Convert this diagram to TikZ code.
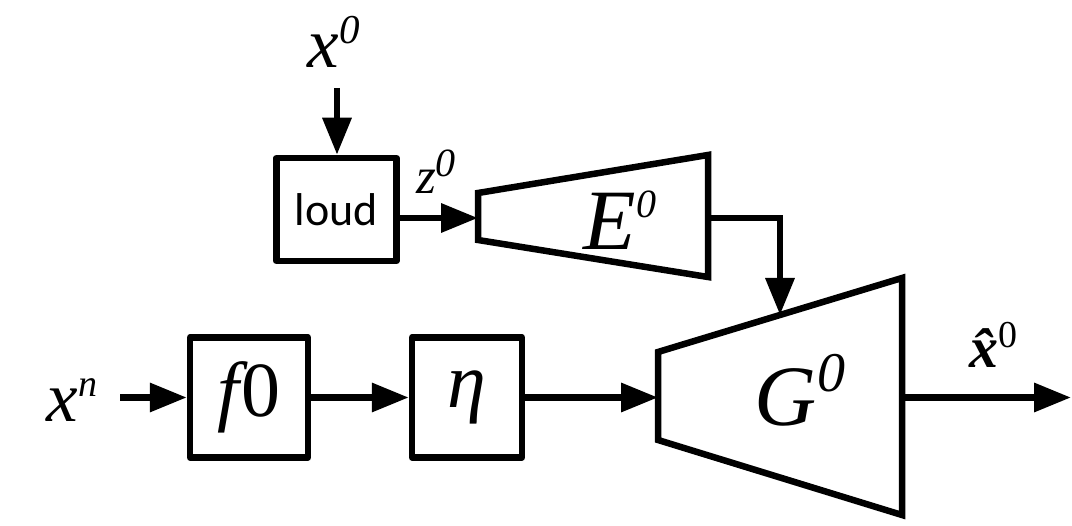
\documentclass[tikz,border=0pt]{standalone}
\usepackage{fontspec}
\setmainfont{Liberation Serif}
\newfontfamily\calfont{Carlito}
\usetikzlibrary{arrows.meta}

\begin{document}
\begin{tikzpicture}[x=1pt,y=-1pt,
  wire/.style={line width=6.5pt, -{Triangle[length=37pt,width=28pt]}},
  blockbox/.style={draw, line width=6.5pt, line join=round, inner sep=0pt},
  stage/.style={draw, line width=6.5pt, line join=miter},
  lbl/.style={inner sep=0pt}]
\useasboundingbox (0,0) rectangle (1072,526);

% input labels
\node[lbl] (x0) at (334,42) {\fontsize{71}{71}\selectfont\itshape x\raisebox{24pt}{\fontsize{41}{41}\selectfont 0}};
\node[lbl] (xn) at (72,400) {\fontsize{71}{71}\selectfont\itshape x\raisebox{25pt}{\fontsize{38}{38}\selectfont n}};
\node[lbl] (z0) at (436,172) {\fontsize{51}{51}\selectfont\itshape z\raisebox{17pt}{\fontsize{40}{40}\selectfont 0}};

% plain blocks
\node[blockbox, minimum width=120pt, minimum height=103pt] (loud) at (336.5,209.5) {\calfont\fontsize{46}{46}\selectfont loud};
\node[blockbox, minimum width=118pt, minimum height=120pt] (f0) at (249,397.5) {\fontsize{78}{78}\selectfont{\itshape f}\kern3pt 0};
\node[blockbox, minimum width=110pt, minimum height=120pt] (eta) at (467,397.5) {\fontsize{78}{78}\selectfont\itshape η};

% encoder E^0
\coordinate (Etl) at (478,193);
\coordinate (Etr) at (708,155);
\coordinate (Ebr) at (708,277);
\coordinate (Ebl) at (478,240);
\draw[stage] (Etl) -- (Etr) -- (Ebr) -- (Ebl) -- cycle;
\coordinate (Ein) at (478,218);
\coordinate (Eout) at (708,218);
\node[lbl] (E) at (620,220) {\fontsize{86}{86}\selectfont\itshape E\raisebox{32pt}{\fontsize{40}{40}\selectfont 0}};

% generator G^0
\coordinate (Gtl) at (658,352);
\coordinate (Gtr) at (902,278);
\coordinate (Gbr) at (902,515);
\coordinate (Gbl) at (658,440);
\draw[stage] (Gtl) -- (Gtr) -- (Gbr) -- (Gbl) -- cycle;
\coordinate (Gin) at (658,397.5);
\coordinate (Gtop) at (780,315);
\coordinate (Gout) at (902,397.5);
\node[lbl] (G) at (800,390) {\fontsize{86}{86}\selectfont\itshape G\raisebox{34pt}{\fontsize{56}{56}\selectfont 0}};

% output
\coordinate (xout) at (1071,397.5);
\node[lbl] (xhat) at (993,345) {\fontsize{58}{58}\selectfont{\bfseries\itshape\^{x}}\raisebox{20pt}{\fontsize{38}{38}\selectfont 0}};

% free input ends
\coordinate (x0in) at (337,88);
\coordinate (xnin) at (120,397.5);

% connectors
\draw[wire] (x0in) -- (x0in |- loud.north);
\draw[wire] (loud.east |- Ein) -- (Ein);
\draw[wire, line join=miter] (Eout) -| (Gtop);
\draw[wire] (xnin) -- (f0.west);
\draw[wire] (f0.east) -- (eta.west);
\draw[wire] (eta.east) -- (Gin);
\draw[wire] (Gout) -- (xout);
\end{tikzpicture}
\end{document}
